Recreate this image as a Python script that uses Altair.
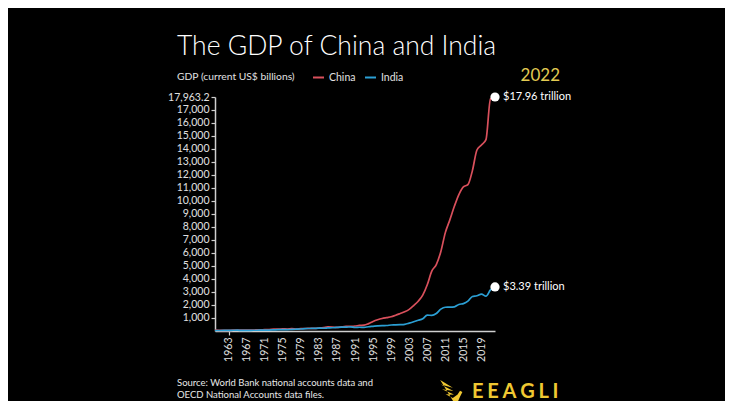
import altair as alt
import pandas as pd

F = "Lato"

years = list(range(1960, 2023))
china = [59.7, 50.1, 47.2, 50.7, 59.7, 70.4, 76.7, 72.9, 70.8, 79.7,
         92.6, 99.8, 113.7, 138.5, 144.2, 163.4, 153.9, 174.9, 149.5, 178.3,
         191.1, 195.9, 205.1, 230.7, 259.9, 309.5, 300.8, 272.9, 312.4, 347.8,
         360.9, 383.4, 426.9, 444.7, 564.3, 734.5, 863.7, 961.6, 1029.0, 1094.0,
         1211.3, 1339.4, 1470.6, 1660.3, 1955.3, 2286.0, 2752.1, 3550.3, 4594.3, 5101.7,
         6087.2, 7551.5, 8532.2, 9570.4, 10475.7, 11061.6, 11233.3, 12310.4, 13894.8, 14280.0,
         14687.7, 17820.5, 17963.2]
india = [37.0, 39.2, 42.2, 48.4, 56.5, 59.6, 45.9, 50.1, 53.1, 58.4,
         62.4, 67.4, 71.5, 85.5, 99.5, 98.5, 102.7, 121.5, 137.3, 153.0,
         186.3, 193.5, 200.7, 218.3, 212.2, 232.5, 249.0, 279.0, 296.6, 296.0,
         321.0, 270.1, 288.2, 279.3, 327.3, 360.3, 392.9, 415.9, 421.4, 458.8,
         468.4, 485.4, 514.9, 607.7, 709.1, 820.4, 940.3, 1216.7, 1198.9, 1341.9,
         1675.6, 1823.1, 1827.6, 1856.7, 2039.1, 2103.6, 2294.8, 2651.5, 2702.9, 2835.6,
         2671.6, 3150.3, 3385.1]
countries = ["China", "India"]
colors = ["#d9505c", "#2b9fd4"]
x_ticks = list(range(1963, 2020, 4))
y_ticks = list(range(1000, 18000, 1000)) + [17963.2]

title_text = "The GDP of China and India"
unit_text = "GDP (current US$ billions)"
year_text = "2022"
source_text = "Source: World Bank national accounts data and\nOECD National Accounts data files."
brand_text = "E\u2009\u200aE\u2009\u200aA\u2009\u200aG\u2009\u200aL\u2009\u200aI"

df = pd.DataFrame({
    "year": years * 2,
    "country": ["China"] * len(years) + ["India"] * len(years),
    "gdp": china + india,
})

axis_col = "#cfcfcf"
lab_col = "#e0e0e0"

x = alt.X("year:Q",
          scale=alt.Scale(domain=[1960, 2022], nice=False, zero=False),
          axis=alt.Axis(title=None, values=x_ticks, tickCount=100,
                        labelExpr="format(datum.value, 'd')",
                        labelAngle=-90,
                        labelFontSize=10.5, labelColor=lab_col, labelFont=F,
                        domainColor=axis_col, domainWidth=1.5,
                        tickColor=axis_col, tickSize=4, tickWidth=1.2,
                        tickOpacity={"condition": {"test": "datum.value == 1963", "value": 1}, "value": 0},
                        labelPadding=2, grid=False, labelFlush=False, labelOverlap=False))
y = alt.Y("gdp:Q",
          scale=alt.Scale(domain=[0, 17963.2], nice=False),
          axis=alt.Axis(title=None, values=y_ticks, tickCount=100,
                        labelExpr="datum.value % 1 ? format(datum.value, ',.1f') : format(datum.value, ',.0f')",
                        labelFontSize=10.5, labelColor=lab_col, labelFont=F,
                        domainColor=axis_col, domainWidth=1.5,
                        tickColor=axis_col, tickSize=4, tickWidth=1.2,
                        labelPadding=2, grid=False, labelFlush=False, labelOverlap=False))
color = alt.Color("country:N",
                  scale=alt.Scale(domain=countries, range=colors),
                  legend=alt.Legend(title=None, orient="none", legendX=97, legendY=-26,
                                    direction="horizontal", symbolType="stroke",
                                    symbolSize=121, symbolStrokeWidth=2,
                                    labelFontSize=10.5, labelColor=lab_col, labelFont=F,
                                    labelOffset=4, columnPadding=5))

base = alt.Chart(df)
lines = base.mark_line(strokeWidth=1.7, interpolate="monotone").encode(x=x, y=y, color=color)
last = base.transform_filter("datum.year == 2022")
dots = last.mark_circle(size=85, color="white", opacity=1).encode(x="year:Q", y="gdp:Q")
ends = last.transform_calculate(
    label="'$' + format(datum.gdp / 1000, '.2f') + ' trillion'"
).mark_text(align="left", baseline="middle", dx=8, fontSize=11, color="white", font=F).encode(
    x="year:Q", y="gdp:Q", text="label:N")


def txt(s, px, py, **kw):
    return alt.Chart(pd.DataFrame({"t": [s]})).mark_text(**kw).encode(
        x=alt.value(px), y=alt.value(py), text="t:N")


title_l = txt(title_text, -38, -42, align="left", baseline="alphabetic", fontSize=26.5,
              fontWeight=300, font=F, color="white")
unit_l = txt(unit_text, -38, -20, align="left", baseline="middle", fontSize=10.3,
             font=F, color=lab_col)
year_l = txt(year_text, 345, -21, align="right", baseline="middle", fontSize=17,
             font=F, color="#e3cb52")
source_l = txt(source_text, -38, 281, align="left", baseline="top", fontSize=9.5,
               lineBreak="\n", lineHeight=12, font=F, color="#e8e8e8")
brand_l = txt(brand_text, 257, 295, align="left", baseline="middle", fontSize=20,
              fontWeight="bold", font=F, color="#f0c832")
bird_path = ("M-0.9,-1 L0.15,-0.35 L-0.85,-0.62 L0.2,-0.08 L-0.75,-0.22 L0.25,0.2 "
             "L-0.45,0.18 L0.15,0.5 L0.55,0.2 L0.75,-0.1 L0.95,0.0 L0.75,0.4 "
             "L0.55,0.85 L0.25,1 L0.15,0.7 Z")
bird = alt.Chart(pd.DataFrame({"t": [1]})).mark_point(
    shape=bird_path, filled=True, color="#f0c832", opacity=1, size=576).encode(
    x=alt.value(236), y=alt.value(295))

chart = alt.layer(lines, dots, ends, title_l, unit_l, year_l, source_l, brand_l, bird).properties(
    width=280, height=234,
    autosize=alt.AutoSizeParams(type="none"),
    padding={"left": 207, "top": 89, "right": 230, "bottom": 70},
    background="black",
).configure_view(strokeWidth=0).configure_axis(labelOverlap=False)

chart.save("out.html", embed_options={"renderer": "svg", "actions": False})
